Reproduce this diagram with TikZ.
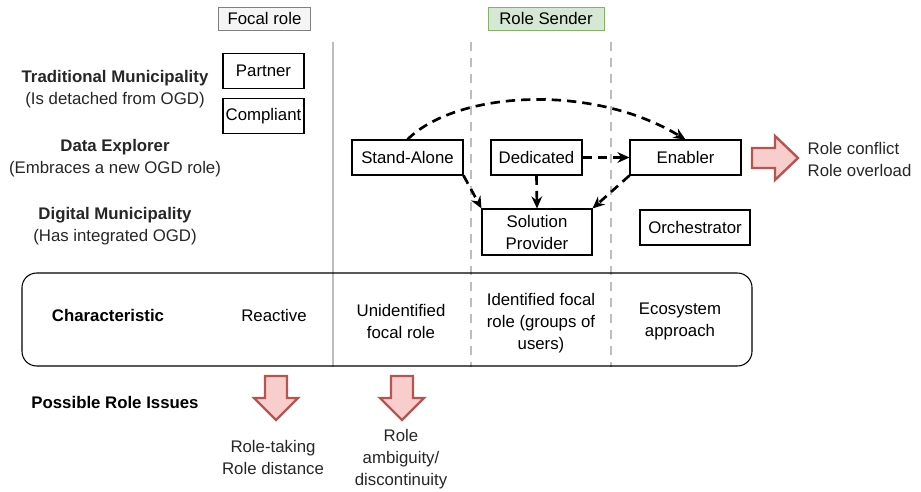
\documentclass[tikz,border=0pt]{standalone}
\usepackage{fontspec}
\setmainfont{Liberation Sans}
\usetikzlibrary{arrows.meta}
\definecolor{redfill}{HTML}{F8CECC}
\definecolor{redline}{HTML}{B85450}
\definecolor{greenfill}{HTML}{D5E8D4}
\definecolor{greenline}{HTML}{82B366}
\definecolor{sepgray}{HTML}{BDBDBD}
\begin{document}
\begin{tikzpicture}[x=0.75pt,y=-0.75pt,
  font=\fontsize{12.6}{16.5}\selectfont,
  rolebox/.style={draw=black,thick,fill=white,minimum height=26.25pt,inner sep=1pt,align=center},
  header/.style={draw,minimum height=17.25pt,inner sep=2pt},
  flow/.style={-{Stealth[length=9pt,width=8pt]},line width=2pt,dash pattern=on 7pt off 4.5pt},
  issue/.style={draw=redline,fill=redfill,line width=1.8pt,line join=miter},
  sep/.style={draw=sepgray,line width=1.5pt},
  dsep/.style={draw=sepgray,line width=1.5pt,dash pattern=on 7pt off 5pt},
  lbl/.style={align=center,text=black!85},
  chr/.style={align=center}]
\useasboundingbox (0,0) rectangle (921,492);

% column separators
\draw[sep] (333,42) -- (333,367);
\draw[dsep] (471,42) -- (471,367);
\draw[dsep] (611,42) -- (611,367);

% column headers
\node[header,draw=gray,fill=gray!8,minimum width=69pt] (focal) at (264.5,18.5) {Focal role};
\node[header,draw=greenline,fill=greenfill,minimum width=87pt] (sender) at (546,18.5) {Role Sender};

% row labels
\node[lbl] (trad) at (115,89.5) {\textbf{Traditional Municipality}\\(Is detached from OGD)};
\node[lbl] (expl) at (115,158) {\textbf{Data Explorer}\\(Embraces a new OGD role)};
\node[lbl] (digi) at (115,226.5) {\textbf{Digital Municipality}\\(Has integrated OGD)};

% role boxes
\node[rolebox,minimum width=60.75pt] (partner) at (263.5,71) {Partner};
\node[rolebox,minimum width=60.75pt] (compliant) at (263.5,116) {Compliant};
\node[rolebox,minimum width=83.25pt] (standalone) at (407.5,157.5) {Stand-Alone};
\node[rolebox,minimum width=68.25pt] (dedicated) at (536.5,157.5) {Dedicated};
\node[rolebox,minimum width=83.25pt] (enabler) at (685.5,157.5) {Enabler};
\node[rolebox,minimum width=82.5pt,minimum height=34.5pt] (solution) at (537,232) {Solution\\Provider};
\node[rolebox,minimum width=82.5pt] (orch) at (695,227.5) {Orchestrator};

% role transitions
\draw[flow] (standalone.north) .. controls (455,92) and (590,82) .. (enabler.north);
\draw[flow] (dedicated.east) -- (enabler.west);
\draw[flow] (dedicated.south) -- (solution.north);
\draw[flow] (standalone.south east) -- (solution.north west);
\draw[flow] (enabler.south west) -- (solution.north east);

% role conflict arrow
\draw[issue] (752,148) -- (775,148) -- (775,136) -- (798,158) -- (775,180) -- (775,168) -- (752,168) -- cycle;
\node[lbl,align=left,anchor=west] (conflict) at (803,159) {Role conflict\\Role overload};

% characteristic band
\draw[thick,rounded corners=11pt] (22,273) rectangle (752,366);
\node[font=\bfseries\fontsize{12.6}{16.5}\selectfont] (charlbl) at (108,315) {Characteristic};
\node[chr] (reactive) at (274,315) {Reactive};
\node[chr] (unident) at (401,321) {Unidentified\\focal role};
\node[chr] (ident) at (541,323) {Identified focal\\role (groups of\\users)};
\node[chr] (eco) at (680,321) {Ecosystem\\approach};

% possible role issues
\node[font=\bfseries\fontsize{12.6}{16.5}\selectfont] (issues) at (115,402) {Possible Role Issues};
\draw[issue] (265,376) -- (287,376) -- (287,398) -- (298,398) -- (276,420) -- (254,398) -- (265,398) -- cycle;
\draw[issue] (391,376) -- (413,376) -- (413,398) -- (424,398) -- (402,420) -- (380,398) -- (391,398) -- cycle;
\node[lbl] (taking) at (273,457) {Role-taking\\Role distance};
\node[lbl] (ambig) at (401,459) {Role\\ambiguity/\\discontinuity};
\end{tikzpicture}
\end{document}
